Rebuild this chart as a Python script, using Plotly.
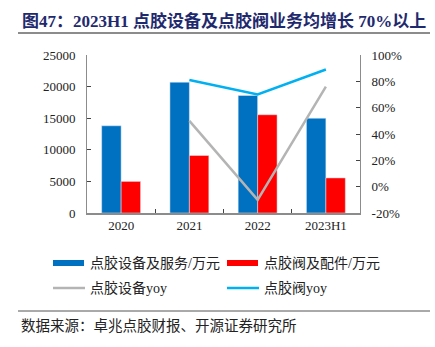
import plotly.graph_objects as go

categories = ["2020", "2021", "2022", "2023H1"]
equip_rev = [13800, 20700, 18600, 15000]
valve_rev = [5000, 9100, 15550, 5550]
equip_yoy = [None, 50, -10, 76]
valve_yoy = [None, 81, 70, 89]

left_ticks = [0, 5000, 10000, 15000, 20000, 25000]
left_tick_text = [str(v) for v in left_ticks]
right_ticks = [-20, 0, 20, 40, 60, 80, 100]
right_tick_text = [f"{v}%" for v in right_ticks]

title = "图47：2023H1 点胶设备及点胶阀业务均增长 70%以上"
source = "数据来源：卓兆点胶财报、开源证券研究所"
legend_names = ["点胶设备及服务/万元", "点胶阀及配件/万元", "点胶设备yoy", "点胶阀yoy"]

BLUE = "#0070C0"
RED = "#FF0000"
GRAY = "#B4B4B4"
CYAN = "#00B0F0"
AXIS = "#8C8C8C"
SERIF = "Liberation Serif, Noto Sans CJK SC"
CJK = "Liberation Serif, Noto Sans CJK SC"

fig = go.Figure()
fig.add_trace(go.Bar(x=categories, y=equip_rev, marker_color=BLUE, name=legend_names[0]))
fig.add_trace(go.Bar(x=categories, y=valve_rev, marker_color=RED, name=legend_names[1]))
fig.add_trace(go.Scatter(x=categories, y=equip_yoy, yaxis="y2", mode="lines",
                         line=dict(color=GRAY, width=2.5), name=legend_names[2]))
fig.add_trace(go.Scatter(x=categories, y=valve_yoy, yaxis="y2", mode="lines",
                         line=dict(color=CYAN, width=2.5), name=legend_names[3]))

W, H = 435, 347
L, R, T, B = 87, 75, 55, 134
PW, PH = W - L - R, H - T - B

def px(x):
    return (x - L) / PW

def py(y):
    return (H - B - y) / PH

shapes = []
annotations = []
annotations.append(dict(text="<b>" + title + "</b>", x=px(20), y=py(21), xref="paper", yref="paper",
                        xanchor="left", yanchor="middle", showarrow=False,
                        font=dict(family=SERIF, size=17, color="#1F2A6E")))
shapes.append(dict(type="line", xref="paper", yref="paper", x0=px(18), x1=px(430), y0=py(33), y1=py(33),
                   line=dict(color="#8C8C8C", width=2)))
leg = [
    (53, 263, "rect", BLUE, legend_names[0]),
    (227, 263, "rect", RED, legend_names[1]),
    (53, 288, "line", GRAY, legend_names[2]),
    (227, 288, "line", CYAN, legend_names[3]),
]
for x0, yc, kind, col, name in leg:
    if kind == "rect":
        shapes.append(dict(type="rect", xref="paper", yref="paper", x0=px(x0), x1=px(x0 + 31),
                           y0=py(yc + 3), y1=py(yc - 3), fillcolor=col, line=dict(width=0)))
    else:
        shapes.append(dict(type="line", xref="paper", yref="paper", x0=px(x0), x1=px(x0 + 32),
                           y0=py(yc), y1=py(yc), line=dict(color=col, width=2.5)))
    annotations.append(dict(text=name, x=px(x0 + 35), y=py(yc), xref="paper", yref="paper",
                            xanchor="left", yanchor="middle", showarrow=False,
                            font=dict(family=CJK, size=14, color="#222")))
shapes.append(dict(type="line", xref="paper", yref="paper", x0=px(18), x1=px(430), y0=py(311), y1=py(311),
                   line=dict(color="#555", width=1)))
annotations.append(dict(text=source, x=px(19), y=py(324), xref="paper", yref="paper",
                        xanchor="left", yanchor="middle", showarrow=False,
                        font=dict(family="Noto Sans CJK SC", size=14.5, color="#222")))

fig.update_layout(
    width=W, height=H,
    margin=dict(l=L, r=R, t=T, b=B, pad=0),
    paper_bgcolor="white", plot_bgcolor="white",
    barmode="group", bargap=0.43, bargroupgap=0,
    showlegend=False,
    font=dict(family=SERIF, size=13, color="#222"),
    xaxis=dict(showline=True, linecolor=AXIS, linewidth=1.5, ticks="inside", ticklen=4,
               tickcolor="#444", tickson="boundaries", showgrid=False,
               tickfont=dict(family=SERIF, size=13)),
    yaxis=dict(range=[0, 25000], tickvals=left_ticks, ticktext=left_tick_text, showline=True,
               linecolor=AXIS, linewidth=1,
               ticks="inside", ticklen=4, tickcolor="#444", showgrid=False, zeroline=False,
               tickfont=dict(family=SERIF, size=13), ticklabelstandoff=8),
    yaxis2=dict(range=[-20, 100], tickvals=right_ticks, ticktext=right_tick_text, overlaying="y",
                side="right", showline=True, linecolor=AXIS, linewidth=1, ticks="inside", ticklen=4,
                tickcolor="#444", showgrid=False, zeroline=False,
                tickfont=dict(family=SERIF, size=13), ticklabelstandoff=8),
    shapes=shapes, annotations=annotations,
)

fig.write_html("out.html")
